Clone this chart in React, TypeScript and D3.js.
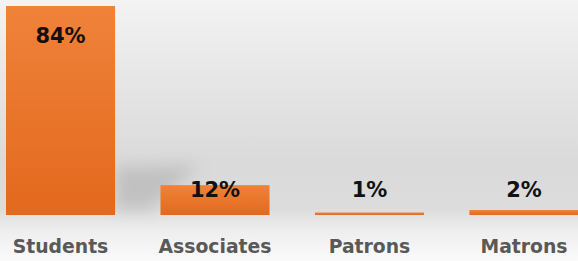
import React from "react";
import * as d3 from "d3";

const categories = ["Students", "Associates", "Patrons", "Matrons"];
const values = [84, 12, 1, 2];
const valueLabels = ["84%", "12%", "1%", "2%"];

const W = 578;
const H = 261;
const baseline = 215;

export default function App() {
  const x = d3
    .scaleBand<string>()
    .domain(categories)
    .range([6, 578.5])
    .paddingInner(0.294)
    .paddingOuter(0);
  const y = d3.scaleLinear().domain([0, 84]).range([baseline, 6]);
  const bw = x.bandwidth();
  const first = x(categories[0])! + bw;

  return (
    <div style={{ position: "fixed", left: 0, top: 0 }}>
      <svg width={W} height={H} style={{ display: "block" }}>
        <defs>
          <linearGradient id="bg" x1="0" y1="0" x2="0" y2="1">
            <stop offset="0" stopColor="#f3f3f3" />
            <stop offset="0.3" stopColor="#e6e6e6" />
            <stop offset="0.62" stopColor="#dadada" />
            <stop offset="0.8" stopColor="#dcdcdc" />
            <stop offset="0.88" stopColor="#ededed" />
            <stop offset="1" stopColor="#fbfbfb" />
          </linearGradient>
          <linearGradient id="bar" x1="0" y1="0" x2="0" y2="1">
            <stop offset="0" stopColor="#f0823a" />
            <stop offset="1" stopColor="#e2691e" />
          </linearGradient>
          <filter id="blur" x="-50%" y="-50%" width="200%" height="200%">
            <feGaussianBlur stdDeviation="8" />
          </filter>
        </defs>
        <rect x={0} y={0} width={W} height={H} fill="url(#bg)" />
        <polygon
          points={`${first},${baseline - 48} ${first + 85},${baseline - 50} ${first + 35},${baseline - 6} ${first},${baseline - 6}`}
          fill="#9a9a9a"
          opacity={0.4}
          filter="url(#blur)"
        />
        {values.map((v, i) => (
          <rect
            key={categories[i]}
            x={x(categories[i])}
            y={y(v)}
            width={bw}
            height={baseline - y(v)}
            fill="url(#bar)"
          />
        ))}
        {values.map((v, i) => (
          <text
            key={"v" + i}
            x={x(categories[i])! + bw / 2}
            y={Math.min(y(v) + 37, 197)}
            textAnchor="middle"
            fontFamily="'DejaVu Sans', sans-serif"
            fontWeight="bold"
            fontSize={21}
            fill="#111"
          >
            {valueLabels[i]}
          </text>
        ))}
        {categories.map((c, i) => (
          <text
            key={"c" + i}
            x={x(c)! + bw / 2}
            y={253}
            textAnchor="middle"
            fontFamily="'DejaVu Sans', sans-serif"
            fontWeight="bold"
            fontSize={18.8}
            fill="#595959"
          >
            {c}
          </text>
        ))}
      </svg>
    </div>
  );
}
